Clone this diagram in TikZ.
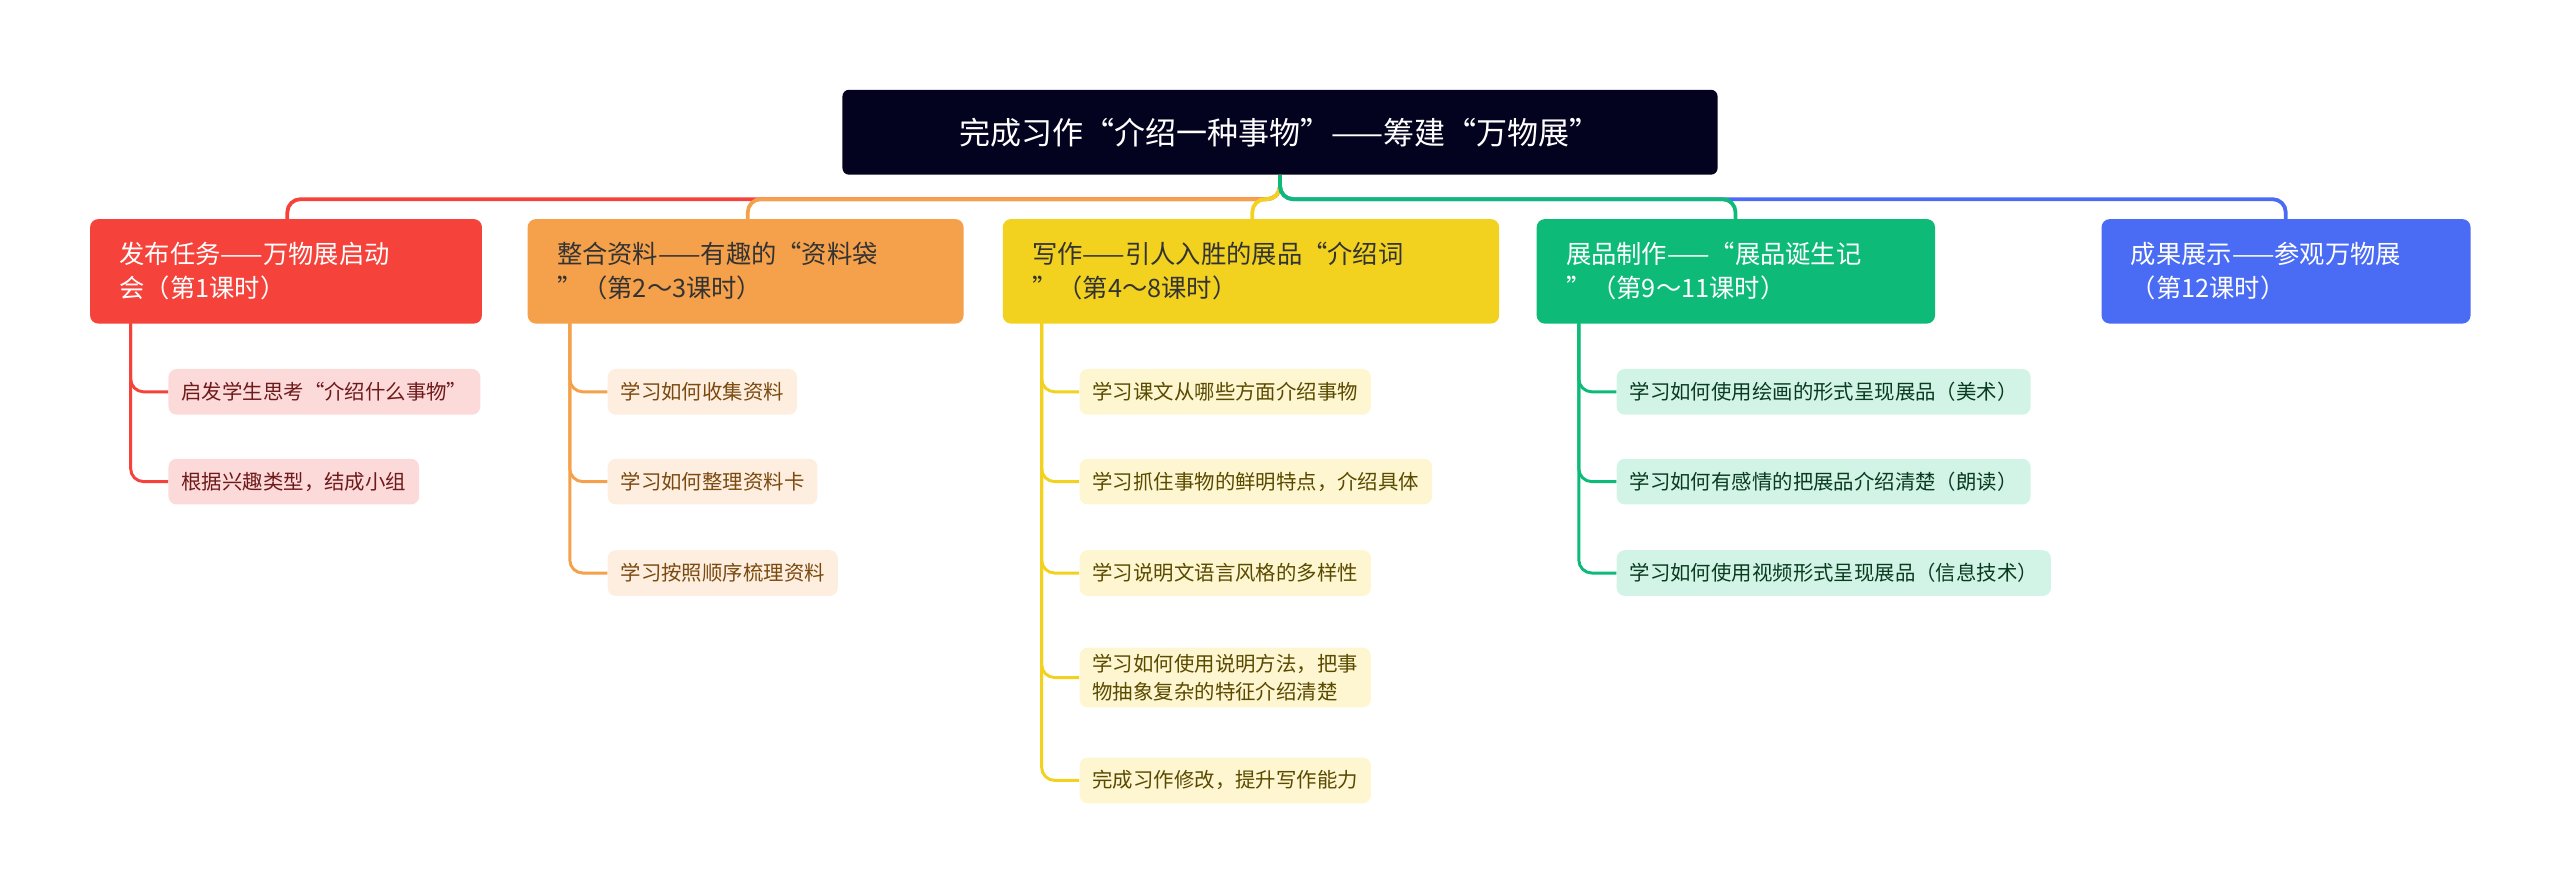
\documentclass[tikz,border=0pt]{standalone}
\usepackage{fontspec}
\setmainfont{Noto Sans CJK SC}
\definecolor{cRoot}{HTML}{03031F}
\definecolor{cR}{HTML}{F5423A}\definecolor{cRl}{HTML}{FDDADA}\definecolor{cRt}{HTML}{6E1A1A}
\definecolor{cO}{HTML}{F5A04A}\definecolor{cOl}{HTML}{FDEEDF}\definecolor{cOt}{HTML}{7A4A10}
\definecolor{cY}{HTML}{F2D21E}\definecolor{cYl}{HTML}{FDF6D0}\definecolor{cYt}{HTML}{5A4A00}
\definecolor{cG}{HTML}{0DBA78}\definecolor{cGl}{HTML}{D2F4E6}\definecolor{cGt}{HTML}{0A3A20}
\definecolor{cB}{HTML}{4A6CF5}
\begin{document}
\begin{tikzpicture}[x=1pt,y=-1pt,
  root/.style={fill=cRoot,rounded corners=4pt,text=white,font=\fontsize{19}{23}\selectfont,minimum width=536pt,minimum height=52pt,inner sep=0pt},
  br/.style={rounded corners=5pt,font=\fontsize{15.5}{21}\selectfont,align=left,anchor=north west,minimum height=64pt,inner xsep=18pt,inner ysep=6pt},
  leaf/.style={rounded corners=5pt,font=\fontsize{12.5}{17}\selectfont,align=left,anchor=west,minimum height=28pt,inner xsep=8pt,inner ysep=4pt},
  ln/.style={line width=2.3pt,rounded corners=8pt},
  lf/.style={line width=1.8pt,rounded corners=8pt}]
\useasboundingbox (0,0) rectangle (1568,548);
\node[root] (root) at (784,81) {完成习作“介绍一种事物”——筹建“万物展”};
\node[br,fill=cR,text=white,text width=204pt] (b1) at (55,134) {发布任务——万物展启动\\会（第1课时）};
\node[br,fill=cO,text=black!80,text width=231pt] (b2) at (323,134) {整合资料——有趣的“资料袋\\”（第2～3课时）};
\node[br,fill=cY,text=black!80,text width=268pt] (b3) at (614,134) {写作——引人入胜的展品“介绍词\\”（第4～8课时）};
\node[br,fill=cG,text=white,text width=208pt] (b4) at (941,134) {展品制作——“展品诞生记\\”（第9～11课时）};
\node[br,fill=cB,text=white,text width=190pt] (b5) at (1287,134) {成果展示——参观万物展\\（第12课时）};
\foreach \b/\c/\x in {b1/cR/176,b2/cO/458,b3/cY/767,b5/cB/1400,b4/cG/1063}
  \draw[ln,\c] (root.south) -- (784,122) -| (\x,134);
% leaves
\node[leaf,fill=cRl,text=cRt] (r1) at (103,240) {启发学生思考“介绍什么事物”};
\node[leaf,fill=cRl,text=cRt] (r2) at (103,295) {根据兴趣类型，结成小组};
\node[leaf,fill=cOl,text=cOt] (o1) at (372,240) {学习如何收集资料};
\node[leaf,fill=cOl,text=cOt] (o2) at (372,295) {学习如何整理资料卡};
\node[leaf,fill=cOl,text=cOt] (o3) at (372,351) {学习按照顺序梳理资料};
\node[leaf,fill=cYl,text=cYt] (y1) at (661,240) {学习课文从哪些方面介绍事物};
\node[leaf,fill=cYl,text=cYt] (y2) at (661,295) {学习抓住事物的鲜明特点，介绍具体};
\node[leaf,fill=cYl,text=cYt] (y3) at (661,351) {学习说明文语言风格的多样性};
\node[leaf,fill=cYl,text=cYt] (y4) at (661,415) {学习如何使用说明方法，把事\\物抽象复杂的特征介绍清楚};
\node[leaf,fill=cYl,text=cYt] (y5) at (661,478) {完成习作修改，提升写作能力};
\node[leaf,fill=cGl,text=cGt] (g1) at (990,240) {学习如何使用绘画的形式呈现展品（美术）};
\node[leaf,fill=cGl,text=cGt] (g2) at (990,295) {学习如何有感情的把展品介绍清楚（朗读）};
\node[leaf,fill=cGl,text=cGt] (g3) at (990,351) {学习如何使用视频形式呈现展品（信息技术）};
\foreach \l in {r1,r2} \draw[lf,cR] (80,198) |- (\l.west);
\foreach \l in {o1,o2,o3} \draw[lf,cO] (349,198) |- (\l.west);
\foreach \l in {y1,y2,y3,y4,y5} \draw[lf,cY] (638,198) |- (\l.west);
\foreach \l in {g1,g2,g3} \draw[lf,cG] (967,198) |- (\l.west);
\end{tikzpicture}
\end{document}
